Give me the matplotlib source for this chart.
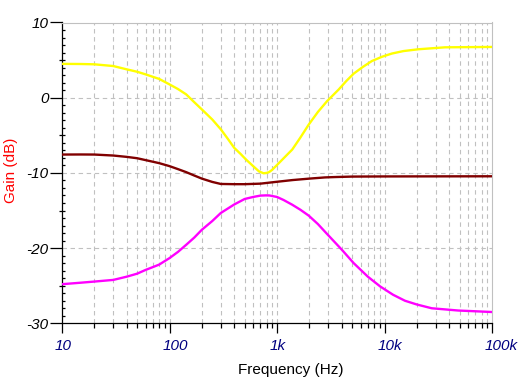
import matplotlib
matplotlib.use("Agg")
import matplotlib.pyplot as plt
from matplotlib.ticker import FixedLocator, NullFormatter, MultipleLocator
from matplotlib.transforms import ScaledTranslation

# ---- data ----
yellow_f = [10, 15, 20, 30, 40, 50, 60, 80, 100, 120, 143, 170, 200, 250, 300, 350, 400,
            460, 513, 600, 680, 750, 800, 843, 900, 1000, 1200, 1385, 1650, 1976, 2400,
            2926, 3754, 4400, 5168, 6300, 7640, 9500, 11700, 15000, 20650, 36500, 100000]
yellow_g = [4.5, 4.48, 4.44, 4.21, 3.77, 3.45, 3.1, 2.5, 1.77, 1.15, 0.44, -0.6, -1.56,
            -2.9, -4.2, -5.5, -6.67, -7.5, -8.2, -9.1, -9.8, -10.05, -10.0, -9.9, -9.6,
            -8.95, -7.8, -6.9, -5.3, -3.56, -1.9, -0.45, 1.1, 2.2, 3.2, 4.1, 4.88, 5.45,
            5.87, 6.2, 6.44, 6.7, 6.75]

maroon_f = [10, 15, 20, 30, 40, 50, 60, 80, 100, 120, 143, 170, 200, 250, 300, 400, 500,
            700, 1000, 1400, 2000, 2800, 3500, 5000, 10000, 100000]
maroon_g = [-7.56, -7.55, -7.56, -7.69, -7.87, -8.05, -8.3, -8.7, -9.1, -9.5, -9.9, -10.35,
            -10.76, -11.2, -11.47, -11.5, -11.5, -11.43, -11.18, -10.95, -10.76, -10.6,
            -10.55, -10.49, -10.47, -10.45]

magenta_f = [10, 15, 20, 30, 40, 50, 60, 80, 100, 120, 143, 170, 200, 250, 300, 400, 500,
             600, 700, 785, 850, 1000, 1150, 1385, 1650, 1976, 2400, 2926, 4000, 5168,
             7000, 9120, 12000, 15500, 20000, 27500, 48400, 70000, 100000]
magenta_g = [-24.8, -24.6, -24.45, -24.23, -23.8, -23.4, -22.9, -22.2, -21.33, -20.5,
             -19.56, -18.6, -17.56, -16.4, -15.33, -14.2, -13.47, -13.2, -13.02, -12.99,
             -13.0, -13.2, -13.6, -14.23, -14.9, -15.69, -16.8, -18.13, -20.2, -22.0,
             -23.8, -25.1, -26.2, -27.0, -27.5, -28.0, -28.3, -28.4, -28.5]

x_ticks = [10, 100, 1000, 10000, 100000]
x_tick_labels = ["10", "100", "1k", "10k", "100k"]
y_ticks = [-30, -20, -10, 0, 10]
y_tick_labels = ["-30", "-20", "-10", "0", "10"]

plt.rcParams['font.family'] = ['Liberation Sans', 'DejaVu Sans']
plt.rcParams['lines.scale_dashes'] = False

fig = plt.figure(figsize=(5.2, 3.9), dpi=100)
ax = fig.add_axes([62/520, 1-323.3/390, 430/520, 300.8/390])

grid_kw = dict(color='#c0c0c0', linewidth=0.8, linestyle=(0, (3.2, 2.6)), zorder=1)

ax.set_xscale('log')
ax.set_xlim(10, 1e5)
ax.set_ylim(-30, 10)

# grid
minor_x = [m * 10**d for d in range(1, 5) for m in range(2, 10)]
for xv in minor_x + x_ticks[1:-1]:
    ax.axvline(xv, **grid_kw)
for yv in y_ticks[1:-1]:
    ax.axhline(yv, **grid_kw)

lw = 1.7
ax.plot(yellow_f, yellow_g, color='#ffff00', lw=lw, zorder=3)
ax.plot(maroon_f, maroon_g, color='#800000', lw=lw, zorder=3)
ax.plot(magenta_f, magenta_g, color='#ff00ff', lw=lw, zorder=3)

# spines
for s in ['top', 'right']:
    ax.spines[s].set_color('#c0c0c0')
    ax.spines[s].set_linewidth(0.8)
for s in ['left', 'bottom']:
    ax.spines[s].set_color('black')
    ax.spines[s].set_linewidth(0.9)

# x ticks
ax.xaxis.set_major_locator(FixedLocator(x_ticks))
ax.set_xticklabels(x_tick_labels)
ax.xaxis.set_minor_locator(FixedLocator(minor_x))
ax.xaxis.set_minor_formatter(NullFormatter())
ax.tick_params(axis='x', which='major', direction='out', length=7.2, width=0.9,
               pad=4, labelsize=11, labelcolor='#000080')
ax.tick_params(axis='x', which='minor', direction='out', length=3.6, width=0.9)
offset = ScaledTranslation(-7/100, 0, fig.dpi_scale_trans)
for lab in ax.get_xticklabels():
    lab.set_horizontalalignment('left')
    lab.set_fontstyle('italic')
    lab.set_transform(lab.get_transform() + offset)

# y ticks
ax.yaxis.set_major_locator(FixedLocator(y_ticks))
ax.set_yticklabels(y_tick_labels)
ax.yaxis.set_minor_locator(MultipleLocator(1))
ax.tick_params(axis='y', which='major', direction='out', length=8.6, width=0.9,
               pad=1, labelsize=11, labelcolor='black')
ax.tick_params(axis='y', which='minor', direction='in', length=2, width=0.9)
for lab in ax.get_yticklabels():
    lab.set_fontstyle('italic')

sec = ax.secondary_yaxis('left')
sec.spines['left'].set_visible(False)
sec.set_yticks([5, -5, -15, -25])
sec.set_yticklabels([])
sec.tick_params(axis='y', which='major', direction='out', length=2.2, width=0.9)
sec.tick_params(axis='y', which='minor', length=0)

ax.set_xlabel("Frequency (Hz)", fontsize=11, color='black')
ax.xaxis.set_label_coords((290.5-62)/430, -(370-323.3)/300.8)
ax.xaxis.label.set_verticalalignment('center')
ax.set_ylabel("Gain (dB)", fontsize=11, color='red')
ax.yaxis.set_label_coords((11-62)/430, (323.3-170)/300.8)
ax.yaxis.label.set_verticalalignment('center')

fig.savefig("out.png", dpi=100)
